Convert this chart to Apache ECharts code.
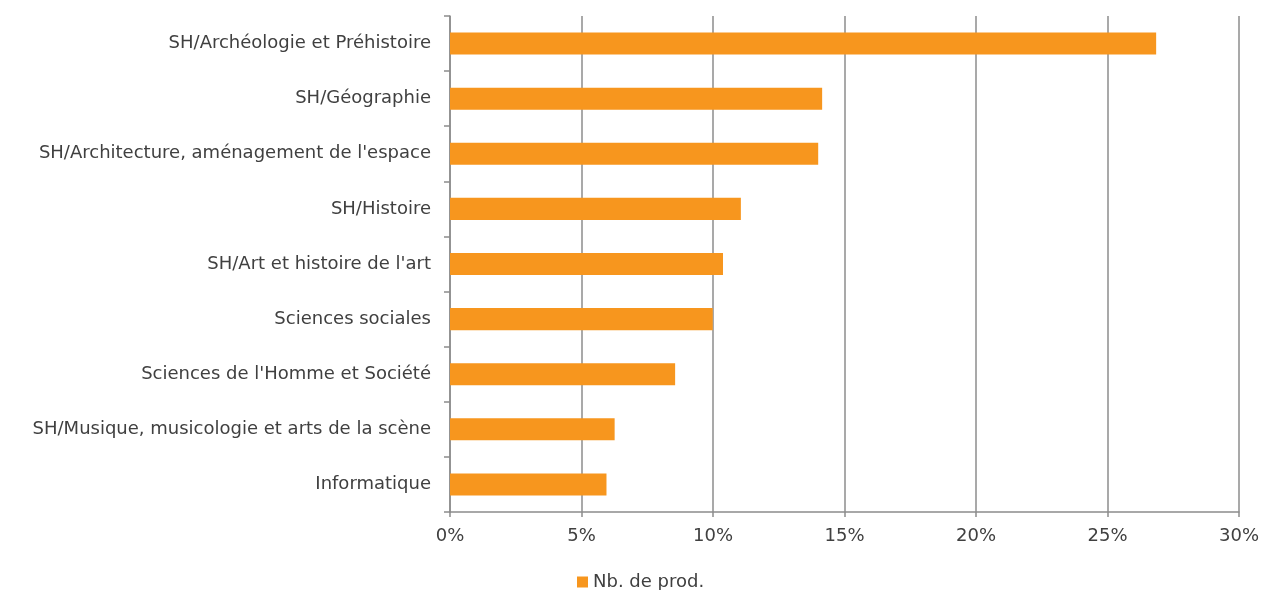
<!DOCTYPE html>
<html>
<head>
<meta charset="utf-8">
<script src="https://cdn.jsdelivr.net/npm/echarts@6/dist/echarts.min.js"></script>
<style>
html,body{margin:0;padding:0;background:#fff;}
#chart{width:1262px;height:590px;}
</style>
</head>
<body>
<div id="chart"></div>
<script>
const categories = [
  "SH/Archéologie et Préhistoire",
  "SH/Géographie",
  "SH/Architecture, aménagement de l'espace",
  "SH/Histoire",
  "SH/Art et histoire de l'art",
  "Sciences sociales",
  "Sciences de l'Homme et Société",
  "SH/Musique, musicologie et arts de la scène",
  "Informatique"
];
const values = [26.85, 14.15, 14.0, 11.06, 10.38, 9.99, 8.56, 6.26, 5.95];
const seriesName = "Nb. de prod.";
const xTicks = [0, 5, 10, 15, 20, 25, 30];

const font = "'DejaVu Sans', sans-serif";
const fs = 18;
const chart = echarts.init(document.getElementById('chart'));
chart.setOption({
  animation: false,
  textStyle: {fontFamily: font},
  grid: {left: 450, right: 21, top: 16, bottom: 78, containLabel: false},
  legend: {
    data: [seriesName],
    left: 572, top: 568,
    itemWidth: 11, itemHeight: 11, itemGap: 4,
    textStyle: {fontFamily: font, fontSize: fs, color: '#404040'},
    icon: 'rect'
  },
  xAxis: {
    type: 'value',
    min: xTicks[0], max: xTicks[xTicks.length - 1], interval: 5,
    axisLine: {show: true, lineStyle: {color: '#8c8c8c', width: 1.5}},
    axisTick: {show: true, length: 5, lineStyle: {color: '#8c8c8c', width: 1.5}},
    splitLine: {show: true, lineStyle: {color: '#8c8c8c', width: 1.5}},
    axisLabel: {formatter: '{value}%', fontSize: fs, color: '#404040', margin: 15, fontFamily: font}
  },
  yAxis: {
    type: 'category',
    inverse: true,
    data: categories,
    axisLine: {show: true, lineStyle: {color: '#8c8c8c', width: 1.5}},
    axisTick: {show: true, length: 6, lineStyle: {color: '#8c8c8c', width: 1.5}},
    axisLabel: {fontSize: fs, color: '#404040', margin: 19, fontFamily: font}
  },
  series: [{
    name: seriesName,
    type: 'bar',
    data: values,
    barWidth: '40%',
    itemStyle: {color: '#F7961E'}
  }]
});
</script>
</body>
</html>
